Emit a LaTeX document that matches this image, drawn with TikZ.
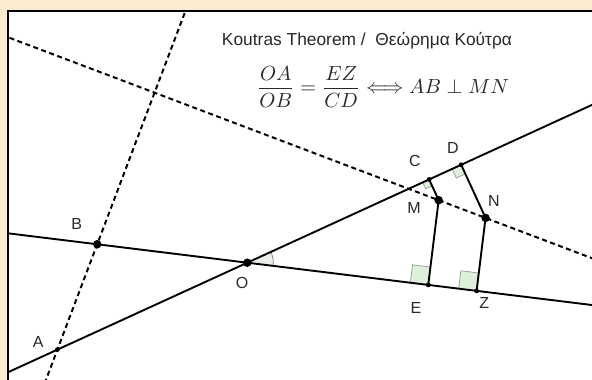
\documentclass[tikz,border=0pt]{standalone}
\usepackage{amsmath}
\usepackage{graphicx}
\usepackage{fontspec}
\setmainfont{Liberation Sans}
\usetikzlibrary{calc}
\definecolor{bg}{RGB}{251,236,208}
\definecolor{rafill}{RGB}{222,240,220}
\definecolor{radraw}{RGB}{140,160,140}
\definecolor{angfill}{RGB}{232,238,232}
\definecolor{lblcol}{RGB}{40,40,40}
\begin{document}
\begin{tikzpicture}[x=1pt,y=1pt,
  solidln/.style={line width=1.9pt, black},
  dashln/.style={line width=2pt, black, dash pattern=on 5pt off 3.5pt},
  bigdot/.style={circle, fill=black, inner sep=0pt, minimum size=8.5pt},
  smalldot/.style={circle, fill=black, inner sep=0pt, minimum size=4.8pt},
  lbl/.style={font=\fontsize{16}{18}\selectfont, text=lblcol, inner sep=0pt},
  rasq/.style={fill=rafill, draw=radraw, line width=0.7pt}]
\useasboundingbox (0,0) rectangle (592,380);
\clip (0,0) rectangle (592,380);
\fill[bg] (0,0) rectangle (592,380);
% panel
\fill[white] (8,-20) rectangle (620,369);
\draw[line width=2.2pt] (8,-20) -- (8,369) -- (620,369);
% points
\coordinate (O) at (247.3,117.3);
\coordinate (A) at ($(O)+(204.6:208.9)$);
\coordinate (B) at ($(O)+(173:151.2)$);
\coordinate (C) at ($(O)+(24.6:200)$);
\coordinate (D) at ($(O)+(24.6:235.25)$);
\coordinate (E) at ($(O)+(-7:182.3)$);
\coordinate (Z) at ($(O)+(-7:231)$);
\coordinate (C1) at ($(C)+(-65.4:50)$);
\coordinate (E1) at ($(E)+(83:50)$);
\coordinate (D1) at ($(D)+(-65.4:50)$);
\coordinate (Z1) at ($(Z)+(83:50)$);
\coordinate (M) at (intersection of C--C1 and E--E1);
\coordinate (N) at (intersection of D--D1 and Z--Z1);
\begin{scope}
\clip (9.1,0) rectangle (600,367.9);
% right-angle marks
\draw[rasq] (E) -- ($(E)+(173:18)$) -- ($(E)+(173:18)+(83:18)$) -- ($(E)+(83:18)$) -- cycle;
\draw[rasq] (Z) -- ($(Z)+(173:18)$) -- ($(Z)+(173:18)+(83:18)$) -- ($(Z)+(83:18)$) -- cycle;
\draw[rasq] (C) -- ($(C)+(204.6:7)$) -- ($(C)+(204.6:7)+(-65.4:7)$) -- ($(C)+(-65.4:7)$) -- cycle;
\draw[rasq] (D) -- ($(D)+(204.6:10)$) -- ($(D)+(204.6:10)+(-65.4:10)$) -- ($(D)+(-65.4:10)$) -- cycle;
% angle mark at O
\fill[angfill] (O) -- ++(-7:26) arc[start angle=-7, end angle=24.6, radius=26] -- cycle;
\draw[gray, line width=0.7pt] ($(O)+(-7:26)$) arc[start angle=-7, end angle=24.6, radius=26];
% lines
\draw[solidln] ($(O)!-2!(D)$) -- ($(O)!3!(D)$);
\draw[solidln] ($(O)!-2!(Z)$) -- ($(O)!3!(Z)$);
\draw[dashln] ($(A)!-1!(B)$) -- ($(A)!4!(B)$);
\draw[dashln] ($(M)!-10!(N)$) -- ($(M)!4!(N)$);
\draw[solidln] (C) -- (M) -- (E);
\draw[solidln] (D) -- (N) -- (Z);
\end{scope}
% dots
\node[bigdot] (pO) at (O) {};
\node[bigdot] (pB) at (B) {};
\node[bigdot] (pM) at (M) {};
\node[bigdot] (pN) at (N) {};
\node[smalldot] (pA) at (A) {};
\node[smalldot] (pC) at (C) {};
\node[smalldot] (pD) at (D) {};
\node[smalldot] (pE) at (E) {};
\node[smalldot] (pZ) at (Z) {};
% labels
\node[lbl] (lA) at (38.3,38.3) {A};
\node[lbl] (lB) at (76.7,156) {B};
\node[lbl] (lO) at (242,97) {O};
\node[lbl] (lC) at (415,219.3) {C};
\node[lbl] (lD) at (453,232) {D};
\node[lbl] (lM) at (414,172) {M};
\node[lbl] (lN) at (494,179) {N};
\node[lbl] (lE) at (416,72) {E};
\node[lbl] (lZ) at (484.3,77) {Z};
% title and formula
\node[inner sep=0pt, anchor=base, text=lblcol] (title) at (367,334) {\resizebox{290pt}{!}{Koutras Theorem /\ \ Θεώρημα Κούτρα}};
\node[inner sep=0pt, text=lblcol] (formula) at (383,293) {\resizebox{252pt}{!}{$\dfrac{OA}{OB}=\dfrac{EZ}{CD}\Longleftrightarrow AB\perp MN$}};
\end{tikzpicture}
\end{document}
